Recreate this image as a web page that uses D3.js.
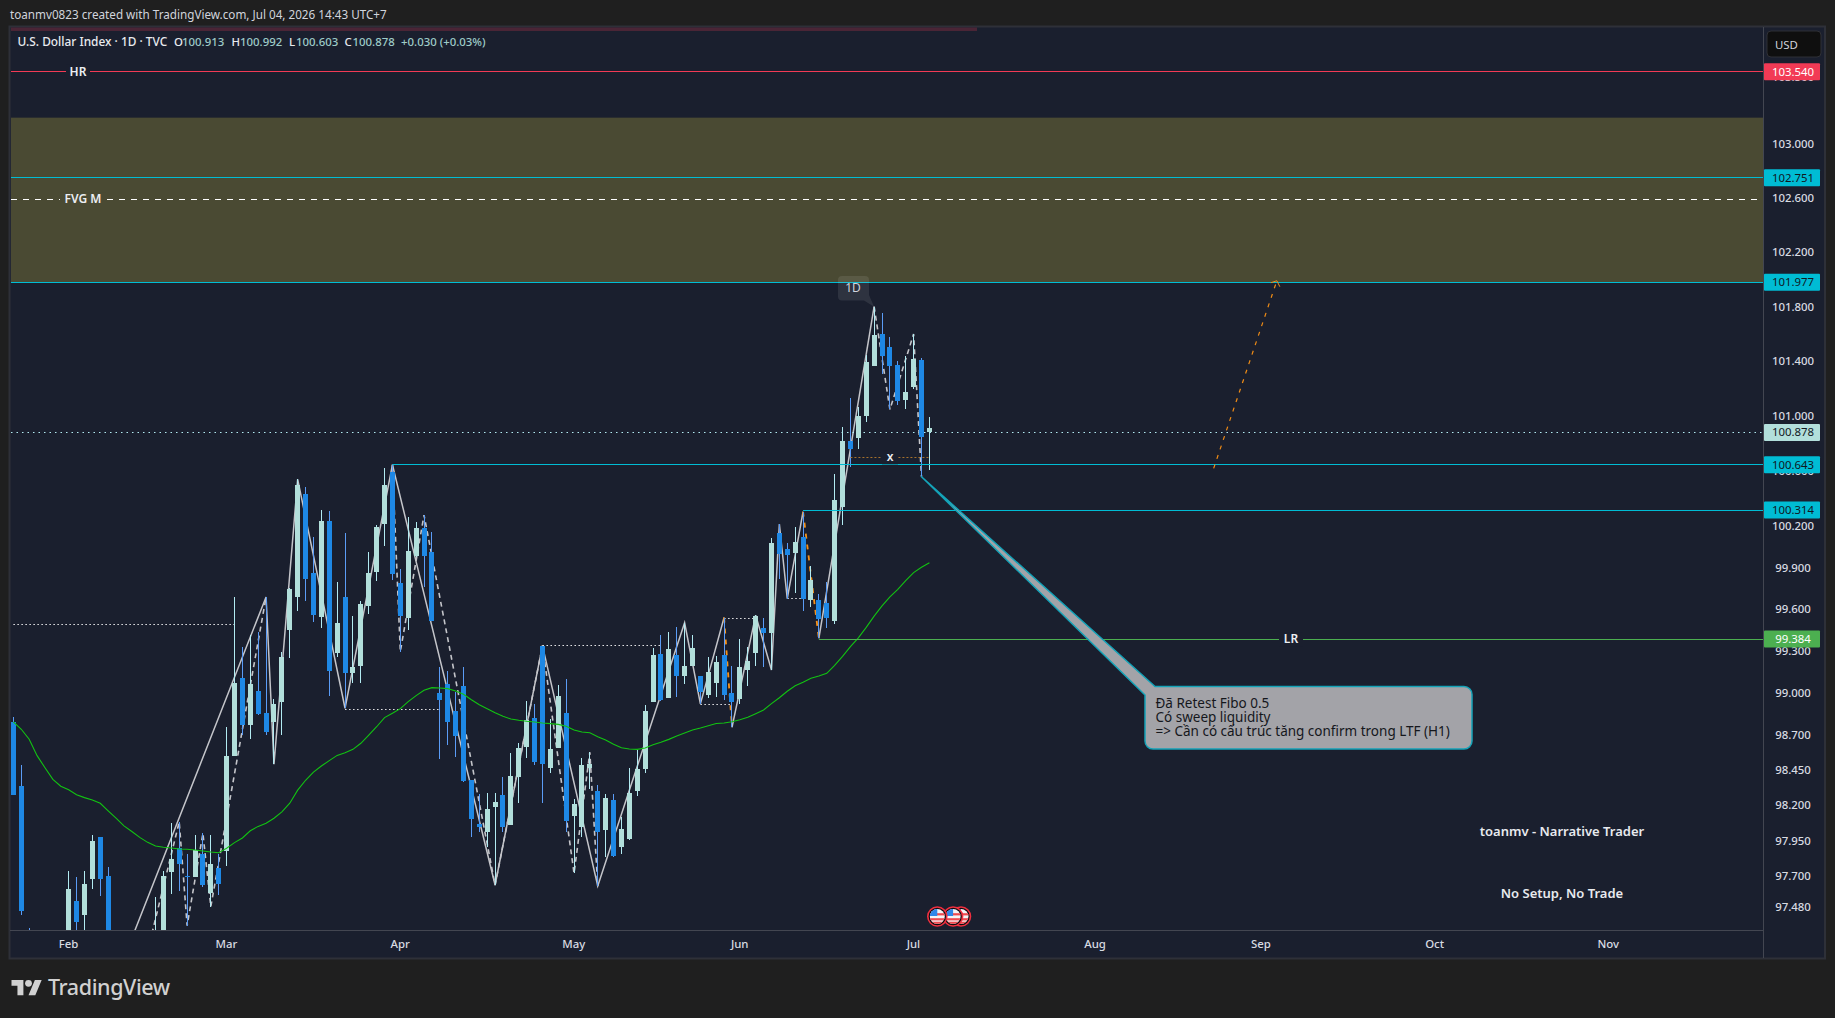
<!DOCTYPE html>
<html>
<head>
<meta charset="utf-8">
<title>U.S. Dollar Index, daily</title>
<script src="https://cdn.jsdelivr.net/npm/d3@7/dist/d3.min.js"></script>
<style>
  html, body { margin: 0; padding: 0; background: #1f1f1f; overflow: hidden; }
  svg { display: block; }
  text { font-family: "Noto Sans", sans-serif; }
</style>
</head>
<body>
<svg id="chart" width="1835" height="1018"></svg>
<script>
// Daily OHLC, one entry per session. Sessions 2-6 and 13-19 sit under the visible price range.
const opens = [98.792,98.332,97.200,96.950,96.700,96.500,96.850,97.100,97.523,97.427,
  97.675,97.974,97.699,97.050,97.200,96.900,97.100,97.200,96.950,97.100,
  97.730,97.896,97.699,97.694,97.852,97.581,97.755,97.873,98.551,99.103,
  98.772,99.013,98.856,98.794,98.937,99.451,99.688,100.428,99.862,99.544,
  100.235,99.287,99.686,99.144,99.194,99.624,99.868,100.216,100.590,99.785,
  99.537,99.981,100.184,100.008,98.996,99.063,98.868,99.046,98.377,98.064,
  98.011,98.187,98.275,98.060,98.401,98.615,98.817,99.334,98.465,98.608,
  98.853,98.123,98.046,98.463,98.303,98.025,98.239,97.905,97.959,98.301,
  98.458,98.932,99.277,98.965,99.270,99.122,99.194,99.120,98.984,99.072,
  99.270,98.998,98.956,99.163,99.286,99.463,99.429,100.148,100.032,100.005,
  100.119,99.662,99.662,99.641,99.516,100.336,100.815,100.839,101.000,101.362,
  101.597,101.501,101.369,101.112,101.207,101.406,100.913];
const highs = [98.825,98.484,97.333,97.050,96.850,96.900,97.100,97.734,97.692,97.734,
  97.988,97.974,97.762,97.200,97.280,97.200,97.250,97.290,97.549,97.737,
  98.070,98.082,97.854,97.988,98.000,97.988,97.852,98.758,99.686,99.327,
  99.413,99.437,99.687,98.956,99.294,99.748,100.537,100.479,100.116,100.314,
  100.307,99.796,100.145,99.553,99.661,100.010,100.206,100.617,100.643,99.886,
  100.261,100.227,100.278,100.153,99.182,99.156,99.008,99.182,98.379,98.282,
  98.289,98.289,98.398,98.569,98.639,98.941,98.920,99.337,98.810,99.053,
  99.096,98.241,98.532,98.575,98.339,98.282,98.277,98.116,98.461,98.591,
  98.913,99.317,99.413,99.432,99.472,99.501,99.413,99.120,99.253,99.263,
  99.539,99.191,99.382,99.329,99.556,99.534,100.114,100.213,100.073,100.194,
  100.302,99.908,99.710,99.795,100.575,100.917,101.126,101.066,101.443,101.798,
  101.751,101.575,101.398,101.435,101.597,101.425,100.992];
const lows = [98.270,97.424,96.850,96.600,96.400,96.300,96.700,97.000,97.300,97.300,
  97.610,97.560,96.950,96.800,97.120,96.800,96.900,97.170,96.850,97.000,
  97.572,97.596,97.349,97.694,97.624,97.483,97.565,97.769,98.551,98.699,
  98.670,98.842,98.699,98.491,98.699,99.249,99.587,99.660,99.508,99.465,
  98.977,99.258,98.889,99.068,99.072,99.563,99.803,100.053,99.807,99.294,
  99.449,99.976,99.757,99.515,98.530,98.627,98.544,98.367,97.975,98.011,
  97.905,97.635,98.011,98.057,98.215,98.537,98.484,98.215,98.429,98.603,
  98.011,97.717,97.975,98.315,97.628,97.835,97.835,97.853,97.952,98.265,
  98.425,98.932,98.940,98.965,98.972,99.063,99.194,98.920,98.965,98.972,
  98.948,98.753,98.920,99.048,99.191,99.186,99.163,99.819,99.674,99.715,
  99.584,99.615,99.389,99.463,99.492,100.206,100.629,100.761,100.955,101.362,
  101.303,101.046,101.076,101.048,101.192,100.556,100.603];
const closes = [98.270,97.455,96.950,96.700,96.550,96.850,97.000,97.607,97.377,97.643,
  97.945,97.680,97.050,96.900,97.250,97.100,97.000,97.260,97.250,97.699,
  97.819,97.786,97.692,97.882,97.638,97.783,97.645,98.549,99.070,98.772,
  99.063,98.849,98.722,98.918,99.256,99.743,100.496,99.819,99.558,100.235,
  99.158,99.503,99.144,99.184,99.634,99.862,100.191,100.496,99.853,99.551,
  100.017,100.184,99.983,99.515,98.951,98.794,98.694,98.374,98.102,98.046,
  98.175,98.224,98.046,98.406,98.603,98.806,98.508,98.494,98.596,98.975,
  98.088,98.210,98.482,98.492,98.011,98.253,97.842,98.034,98.289,98.453,
  98.867,99.267,98.948,99.313,99.122,99.191,99.320,99.008,99.148,99.217,
  98.984,98.937,99.184,99.227,99.548,99.429,100.075,99.998,99.991,100.082,
  99.669,99.807,99.527,99.534,100.387,100.815,100.757,100.998,101.391,101.590,
  101.435,101.362,101.104,101.170,101.413,100.848,100.878];

// Moving average, read once per session.
const movingAverage = [98.792,98.739,98.668,98.551,98.465,98.382,98.334,98.308,98.274,98.253,
  98.236,98.213,98.159,98.107,98.053,98.013,97.971,97.936,97.910,97.901,
  97.896,97.889,97.887,97.882,97.875,97.868,97.863,97.894,97.934,97.967,
  98.018,98.049,98.072,98.107,98.152,98.213,98.306,98.376,98.434,98.477,
  98.516,98.553,98.572,98.596,98.639,98.698,98.757,98.822,98.853,98.886,
  98.936,98.979,99.017,99.036,99.034,99.029,99.012,98.989,98.950,98.914,
  98.886,98.857,98.832,98.812,98.803,98.796,98.791,98.784,98.779,98.774,
  98.760,98.734,98.719,98.714,98.686,98.662,98.632,98.607,98.598,98.596,
  98.605,98.629,98.646,98.667,98.691,98.712,98.734,98.748,98.764,98.780,
  98.784,98.793,98.807,98.824,98.850,98.877,98.922,98.964,99.010,99.050,
  99.075,99.103,99.120,99.139,99.195,99.260,99.330,99.393,99.468,99.549,
  99.622,99.688,99.742,99.804,99.862,99.901,99.933];

// Axis ticks.
const priceTicks = [97.48,97.7,97.95,98.2,98.45,98.7,99,99.3,99.6,99.9,100.2,100.6,101,101.4,101.8,102.2,102.6,103,103.5];
const monthBars = [7,27,49,71,92,114,137,158,180,202];
const monthNames = ["Feb","Mar","Apr","May","Jun","Jul","Aug","Sep","Oct","Nov"];

// Horizontal levels: price, first bar (null = pane edge), colour of the price tag.
const levelPrices = [103.54,102.751,101.977,100.643,100.314,99.384];
const levelStarts = [null,null,null,48,100,102];
const levelColors = ["#f23a55","#00bcd4","#00bcd4","#00bcd4","#00bcd4","#4caf50"];
const fairValueTop = 103.197, fairValueBottom = 101.977, fairValueMid = 102.59;

// Dotted swing levels.
const dottedStarts = [0,42,67,87,90,98];
const dottedEnds = [28,54,82,91,94,100];
const dottedPrices = [99.489,98.882,99.338,98.917,99.535,99.674];

// Swing legs, written as bar + H(igh) or L(ow).
const solidLegs = ["14L 32H 33L 36H 42L 48H 61L 67H 74L 85H 87L 90H","91L 94H 96L 97H 98L 100H","102L 109H"];
const dashedLegs = ["17L 21H 22L 24H 25L 32H","48H 49L 52H 61L 67H 71L 73H 74L","109H 111L 114H 115L"];
const orangeLegs = ["90H 91L","100H 102L"];

// Projected move and economic-calendar markers.
const projectionBars = [152,160];
const projectionPrices = [100.617,101.989];
const eventBars = [120,119,117];

const noteLines = ["Đã Retest Fibo 0.5","Có sweep liquidity","=> Cần có cấu trúc tăng confirm trong LTF (H1)"];

// ---- layout ----
const paneBg = "#1a1f2e";
const plotLeft = 11, plotRight = 1763, plotTop = 31, plotBottom = 930;
const last = closes.length - 1;

const x = d3.scaleLinear().domain([0, last]).range([13.4, 929.4]);
const y = d3.scaleLog().domain([97.48, 103.54]).range([907, 71.7]);
const crisp = p => Math.floor(y(p)) + 0.5;

const svg = d3.select("#chart");

// Page frame and pane
svg.append("rect").attr("x", 9.5).attr("y", 26.5).attr("width", 1815.5).attr("height", 932)
  .attr("fill", paneBg).attr("stroke", "#2e3038").attr("stroke-width", 2);
svg.append("rect").attr("x", 11).attr("y", 27.5).attr("width", 966).attr("height", 3.5).attr("fill", "#4a2536");

svg.append("text").attr("x", 10).attr("y", 19).attr("fill", "#d1d4dc").attr("font-size", 11.7)
  .text("toanmv0823 created with TradingView.com, Jul 04, 2026 14:43 UTC+7");

svg.append("defs").append("clipPath").attr("id", "plot").append("rect")
  .attr("x", plotLeft).attr("y", plotTop).attr("width", plotRight - plotLeft).attr("height", plotBottom - plotTop);
const plot = svg.append("g").attr("clip-path", "url(#plot)");

// Fair value gap
plot.append("rect").attr("x", plotLeft).attr("width", plotRight - plotLeft)
  .attr("y", y(fairValueTop)).attr("height", y(fairValueBottom) - y(fairValueTop)).attr("fill", "#4a4a33");

// Swing legs sit under the candles
const legPoints = s => s.split(" ").map(t => {
  const bar = parseInt(t), side = t.slice(-1);
  return [bar, side === "H" ? highs[bar] : lows[bar]];
});
const leg = d3.line().x(d => x(d[0])).y(d => y(d[1]));
const legLayer = plot.append("g").attr("fill", "none");
legLayer.selectAll("path.solid").data(solidLegs).join("path").attr("class", "solid")
  .attr("d", s => leg(legPoints(s))).attr("stroke", "#c4c5ca").attr("stroke-width", 1.5);
legLayer.selectAll("path.dashed").data(dashedLegs).join("path").attr("class", "dashed")
  .attr("d", s => leg(legPoints(s))).attr("stroke", "#c4c5ca").attr("stroke-width", 1.6).attr("stroke-dasharray", "5 4");
legLayer.selectAll("path.orange").data(orangeLegs).join("path").attr("class", "orange")
  .attr("d", s => leg(legPoints(s))).attr("stroke", "#f7931a").attr("stroke-width", 1.8).attr("stroke-dasharray", "5 6");

// Dotted swing levels
plot.selectAll("line.swing").data(dottedPrices).join("line").attr("class", "swing")
  .attr("x1", (d, i) => x(dottedStarts[i])).attr("x2", (d, i) => x(dottedEnds[i]))
  .attr("y1", d => crisp(d)).attr("y2", d => crisp(d))
  .attr("stroke", "#e8e8ea").attr("stroke-width", 1).attr("stroke-dasharray", "1.5 2.5");

// Current price
plot.append("line").attr("x1", plotLeft).attr("x2", plotRight)
  .attr("y1", crisp(closes[last])).attr("y2", crisp(closes[last]))
  .attr("stroke", "#b2ebf2").attr("stroke-width", 1).attr("stroke-dasharray", "1.5 4");

// Candles: the running session is toned against the prior close
const isUp = i => i === last ? closes[i] > closes[i - 1] : closes[i] >= opens[i];
const bars = d3.range(closes.length);
const candles = plot.append("g").attr("shape-rendering", "crispEdges");
candles.selectAll("line").data(bars).join("line")
  .attr("x1", i => Math.floor(x(i)) + 0.5).attr("x2", i => Math.floor(x(i)) + 0.5)
  .attr("y1", i => y(highs[i])).attr("y2", i => y(lows[i]))
  .attr("stroke", i => isUp(i) ? "#b2ebf2" : "#5b9cf6").attr("stroke-width", 1);
candles.selectAll("rect").data(bars).join("rect")
  .attr("x", i => Math.floor(x(i)) - 2).attr("width", 5)
  .attr("y", i => y(Math.max(opens[i], closes[i])))
  .attr("height", i => Math.max(1, Math.abs(y(opens[i]) - y(closes[i]))))
  .attr("fill", i => isUp(i) ? "#b2dfdb" : "#1e88e5");

// Moving average
plot.append("path")
  .attr("d", d3.line().x((d, i) => x(i)).y(d => y(d))(movingAverage))
  .attr("fill", "none").attr("stroke", "#12c312").attr("stroke-width", 1.1);

// Horizontal levels
plot.selectAll("line.level").data(levelPrices).join("line").attr("class", "level")
  .attr("x1", (d, i) => levelStarts[i] === null ? plotLeft : x(levelStarts[i])).attr("x2", plotRight)
  .attr("y1", d => crisp(d)).attr("y2", d => crisp(d))
  .attr("stroke", (d, i) => levelColors[i]).attr("stroke-width", 1);
plot.append("line").attr("x1", plotLeft).attr("x2", plotRight)
  .attr("y1", crisp(fairValueMid)).attr("y2", crisp(fairValueMid))
  .attr("stroke", "#ffffff").attr("stroke-width", 1).attr("stroke-dasharray", "6 6");

// Labels that break their line
function lineLabel(cx, cy, width, text, bg) {
  plot.append("rect").attr("x", cx - width / 2).attr("y", cy - 7).attr("width", width).attr("height", 14).attr("fill", bg);
  plot.append("text").attr("x", cx).attr("y", cy + 4).attr("text-anchor", "middle")
    .attr("fill", "#eceef2").attr("font-size", 12).attr("font-weight", 600).text(text);
}
lineLabel(78, y(levelPrices[0]), 24, "HR", paneBg);
lineLabel(83, y(fairValueMid), 46, "FVG M", "#4a4a33");
lineLabel(1291, y(levelPrices[5]), 24, "LR", paneBg);

// The "x" marker over its thin line
const xMarkerPrice = 100.697;
plot.append("line").attr("x1", x(106)).attr("x2", x(116))
  .attr("y1", crisp(xMarkerPrice)).attr("y2", crisp(xMarkerPrice))
  .attr("stroke", "#a8722c").attr("stroke-width", 1).attr("stroke-dasharray", "2 2");
lineLabel(890, y(xMarkerPrice), 16, "x", paneBg);

// Projected move
const pA = [x(projectionBars[0]), y(projectionPrices[0])], pB = [x(projectionBars[1]), y(projectionPrices[1])];
plot.append("line").attr("x1", pA[0]).attr("y1", pA[1]).attr("x2", pB[0]).attr("y2", pB[1])
  .attr("stroke", "#f08c16").attr("stroke-width", 1.2).attr("stroke-dasharray", "4 6");
plot.append("path").attr("d", d3.line()([[pB[0] - 6, pB[1] + 2], pB, [pB[0] + 3, pB[1] + 6]]))
  .attr("fill", "none").attr("stroke", "#f08c16").attr("stroke-width", 1);

// Timeframe tag
const tagTip = [x(109), y(highs[109])];
plot.append("path")
  .attr("d", `M842 276H865a4 4 0 0 1 4 4V295L${tagTip[0]} ${tagTip[1]}L864 300.5H842a4 4 0 0 1 -4 -4V280a4 4 0 0 1 4 -4Z`)
  .attr("fill", "#ffffff").attr("fill-opacity", 0.09);
plot.append("text").attr("x", 853).attr("y", 291.5).attr("text-anchor", "middle")
  .attr("fill", "#d1d4dc").attr("font-size", 12).text("1D");

// Callout with its wedge pointing at the session low
const apex = [x(115), y(lows[115])];
plot.append("path")
  .attr("d", `M${apex[0]} ${apex[1]}L1155 686.5H1464a8 8 0 0 1 8 8V741a8 8 0 0 1 -8 8H1153a8 8 0 0 1 -8 -8V695Z`)
  .attr("fill", "#a3a3a8").attr("stroke", "#14a3b8").attr("stroke-width", 1.5).attr("stroke-linejoin", "round");
plot.selectAll("text.note").data(noteLines).join("text").attr("class", "note")
  .attr("x", 1155.5).attr("y", (d, i) => 707.5 + i * 14)
  .attr("fill", "#15171c").attr("font-size", 13.5).text(d => d);

// Free text
plot.append("text").attr("x", 1562).attr("y", 836).attr("text-anchor", "middle")
  .attr("fill", "#e8eaee").attr("font-size", 13).attr("font-weight", 600).text("toanmv - Narrative Trader");
plot.append("text").attr("x", 1562).attr("y", 898).attr("text-anchor", "middle")
  .attr("fill", "#e8eaee").attr("font-size", 13).attr("font-weight", 600).text("No Setup, No Trade");

// Calendar markers
const flagDefs = svg.select("defs");
flagDefs.append("clipPath").attr("id", "flagDisc").append("circle").attr("r", 7.5);
const flags = plot.selectAll("g.flag").data(eventBars).join("g").attr("class", "flag")
  .attr("transform", d => `translate(${x(d)},916.5)`);
flags.append("circle").attr("r", 9.5).attr("fill", "#0c0c10").attr("stroke", "#ef2f3f").attr("stroke-width", 1.6);
const flagBody = flags.append("g").attr("clip-path", "url(#flagDisc)");
flagBody.append("rect").attr("x", -8).attr("y", -8).attr("width", 16).attr("height", 16).attr("fill", "#f4f4f6");
[-2.5, 2.5, 6].forEach(s => flagBody.append("rect").attr("x", -8).attr("y", s - 0.8).attr("width", 16).attr("height", 2.2).attr("fill", "#ef4a4f"));
flagBody.append("rect").attr("x", -8).attr("y", -8).attr("width", 8).attr("height", 7.5).attr("fill", "#2f87ea");

// Price scale
const priceAxis = d3.axisRight(y).tickValues(priceTicks).tickFormat(d3.format(".3f")).tickSize(0).tickPadding(0);
const priceGroup = svg.append("g").attr("transform", "translate(1793,0)").call(priceAxis);
priceGroup.select(".domain").remove();
priceGroup.selectAll("text").attr("x", 0).attr("text-anchor", "middle").attr("fill", "#d8dbe2")
  .attr("font-size", 11.4).attr("font-weight", 500).attr("font-family", '"Noto Sans", sans-serif');

// Time scale
const timeAxis = d3.axisBottom(x).tickValues(monthBars).tickFormat((d, i) => monthNames[i]).tickSize(0).tickPadding(0);
const timeGroup = svg.append("g").attr("transform", "translate(-0.7,939.5)").call(timeAxis);
timeGroup.select(".domain").remove();
timeGroup.selectAll("text").attr("fill", "#d8dbe2").attr("font-size", 11.4).attr("font-weight", 500)
  .attr("font-family", '"Noto Sans", sans-serif');

// Scale borders
svg.append("line").attr("x1", 1763.5).attr("x2", 1763.5).attr("y1", 27).attr("y2", 958).attr("stroke", "#434651");
svg.append("line").attr("x1", 10).attr("x2", 1763.5).attr("y1", 930.5).attr("y2", 930.5).attr("stroke", "#434651");

// Price tags
const tagPrices = levelPrices.concat([closes[last]]);
const tagColors = levelColors.concat(["#b2dfdb"]);
const tagText = ["#ffffff", "#10171f", "#10171f", "#10171f", "#10171f", "#ffffff", "#10171f"];
const tags = svg.selectAll("g.tag").data(tagPrices).join("g").attr("class", "tag")
  .attr("transform", d => `translate(1764,${y(d) - 8.5})`);
tags.append("rect").attr("width", 56).attr("height", 17).attr("rx", 1).attr("fill", (d, i) => tagColors[i]);
tags.append("text").attr("x", 29).attr("y", 12.5).attr("text-anchor", "middle")
  .attr("font-size", 11.4).attr("fill", (d, i) => tagText[i]).text(d => d3.format(".3f")(d));

// Currency button
svg.append("rect").attr("x", 1767).attr("y", 31).attr("width", 54).attr("height", 26).attr("rx", 4)
  .attr("fill", "#0f0f0f").attr("stroke", "#2f3036");
svg.append("text").attr("x", 1775).attr("y", 48.5).attr("fill", "#d1d4dc").attr("font-size", 11.4).text("USD");

// Legend
const fmt = d3.format(".3f");
const change = closes[last] - closes[last - 1];
const pct = change / closes[last - 1] * 100;
function legendText(px, text, color, size = 11.4) {
  svg.append("text").attr("x", px).attr("y", 45.5).attr("fill", color).attr("font-size", size)
    .attr("font-weight", 500).text(text);
}
const legendValue = "#9ecbc8";
legendText(17.5, "U.S. Dollar Index · 1D · TVC", "#e8eaee", 11.9);
legendText(174, "O", "#e8eaee"); legendText(182, fmt(opens[last]), legendValue);
legendText(231.5, "H", "#e8eaee"); legendText(240, fmt(highs[last]), legendValue);
legendText(289, "L", "#e8eaee"); legendText(296, fmt(lows[last]), legendValue);
legendText(344.5, "C", "#e8eaee"); legendText(352.5, fmt(closes[last]), legendValue);
legendText(401, `${d3.format("+.3f")(change)} (${d3.format("+.2f")(pct)}%)`, legendValue);

// Brand mark
const brand = svg.append("g").attr("transform", "translate(11.5,976.5) scale(0.85)").attr("fill", "#d1d1d1");
brand.append("path").attr("d", "M14 22H7V11H0V4h14v18zM28 22h-8l7.5-18h8L28 22z");
brand.append("circle").attr("cx", 20).attr("cy", 8).attr("r", 4);
svg.append("text").attr("x", 48).attr("y", 995).attr("fill", "#d1d1d1").attr("font-size", 21.5)
  .attr("font-weight", 500).attr("font-family", '"Inter", sans-serif').attr("letter-spacing", "-0.4").text("TradingView");
</script>
</body>
</html>
